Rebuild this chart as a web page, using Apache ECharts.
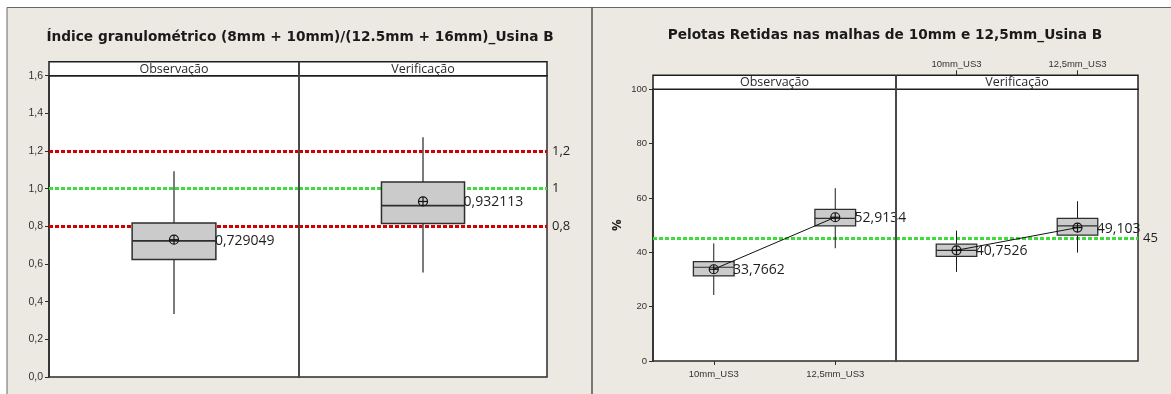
<!DOCTYPE html>
<html>
<head>
<meta charset="utf-8">
<script src="https://cdn.jsdelivr.net/npm/echarts@6/dist/echarts.min.js"></script>
<style>
  html, body { margin: 0; padding: 0; background: #ffffff; }
  #chart { width: 1171px; height: 394px; }
</style>
</head>
<body>
<div id="chart"></div>
<script>
// ---- Índice granulométrico (8mm + 10mm)/(12.5mm + 16mm) ----
// box stats: low whisker, Q1, median, Q3, high whisker
const phases = ['Observação', 'Verificação'];
const indexObs = [0.334, 0.624, 0.723, 0.818, 1.092];
const indexVer = [0.555, 0.815, 0.910, 1.036, 1.273];
const indexMeans = [0.729049, 0.932113];
const indexLimits = [1.2, 0.8];
const indexTarget = [1.0];
const indexAxis = { min: 0, max: 1.6, interval: 0.2 };

// ---- Pelotas retidas nas malhas de 10mm e 12,5mm (%) ----
const meshes = ['10mm_US3', '12,5mm_US3'];
const retObs10 = [24.3, 31.3, 34.5, 36.6, 43.3];
const retObs125 = [41.5, 49.7, 52.5, 55.8, 63.6];
const retVer10 = [32.8, 38.5, 40.75, 43.0, 48.0];
const retVer125 = [39.9, 46.3, 49.7, 52.5, 58.8];
const retObsMeans = [33.7662, 52.9134];
const retVerMeans = [40.7526, 49.103];
const retTarget = [45];
const retAxis = { min: 0, max: 100, interval: 20 };

const titles = [
  'Índice granulométrico (8mm + 10mm)/(12.5mm + 16mm)_Usina B',
  'Pelotas Retidas nas malhas de 10mm e 12,5mm_Usina B'
];

// ---- layout ----
const BEIGE = '#ece8e2';
const LEFT = { x0: 49, xm: 299, x1: 547, head: 61.7, top: 75.7, bottom: 377 };
const RIGHT = { x0: 653, xm: 896, x1: 1138, head: 75.3, top: 89.3, bottom: 361 };
const RED = '#d40000';
const GREEN = '#3cdc3c';

const comma = v => String(v).replace('.', ',');
const LABEL_FONT = '"Open Sans", "DejaVu Sans", sans-serif';
const TICK_FONT = '"Liberation Sans", Arial, sans-serif';

function gridAt(x0, x1, p) {
  return {
    left: x0, top: p.top, width: x1 - x0, height: p.bottom - p.top,
    show: true, backgroundColor: '#ffffff', borderColor: '#2b2b2b', borderWidth: 1.5,
    containLabel: false, outerBoundsMode: 'none'
  };
}

function boxRenderer(st) {
  return function (params, api) {
    const c = api.value(0);
    const at = i => api.coord([c, api.value(i)]);
    const lo = at(1), q1 = at(2), md = at(3), q3 = at(4), hi = at(5), mn = at(6);
    const cx = lo[0];
    const hw = api.size([1, 0])[0] * 0.335 / 2;
    const r = st.meanR;
    const ink = { stroke: '#111', lineWidth: 1.2 };
    return {
      type: 'group',
      children: [
        { type: 'line', shape: { x1: cx, y1: lo[1], x2: cx, y2: q1[1] }, style: { stroke: st.whisker, lineWidth: st.whiskerW } },
        { type: 'line', shape: { x1: cx, y1: q3[1], x2: cx, y2: hi[1] }, style: { stroke: st.whisker, lineWidth: st.whiskerW } },
        { type: 'rect', shape: { x: cx - hw, y: q3[1], width: hw * 2, height: q1[1] - q3[1] },
          style: { fill: '#cbcbcb', stroke: '#2e2e2e', lineWidth: st.boxW } },
        { type: 'line', shape: { x1: cx - hw, y1: md[1], x2: cx + hw, y2: md[1] }, style: { stroke: '#2e2e2e', lineWidth: st.medW } },
        { type: 'circle', shape: { cx: cx, cy: mn[1], r: r }, style: Object.assign({ fill: null }, ink) },
        { type: 'line', shape: { x1: cx - r, y1: mn[1], x2: cx + r, y2: mn[1] }, style: ink },
        { type: 'line', shape: { x1: cx, y1: mn[1] - r, x2: cx, y2: mn[1] + r }, style: ink },
        { type: 'text', z2: 20, style: {
            text: comma(api.value(6)), x: cx + hw - 1, y: mn[1] + 1,
            align: 'left', verticalAlign: 'middle', textAlign: 'left', textVerticalAlign: 'middle',
            fontSize: 14, fontFamily: LABEL_FONT, fill: '#1e1e1e' } }
      ]
    };
  };
}

function refLines(values, color, labelled) {
  return values.map(v => ({
    yAxis: v,
    lineStyle: { color: color, type: [4, 2], width: 3 },
    label: labelled
      ? { show: true, position: 'end', distance: 5, formatter: comma(v),
          fontSize: 13, fontFamily: LABEL_FONT, color: '#1e1e1e' }
      : { show: false }
  }));
}

function boxSeries(grid, rows, means, st, marks) {
  return {
    type: 'custom', xAxisIndex: grid, yAxisIndex: grid, z: 10,
    renderItem: boxRenderer(st),
    encode: { x: 0, y: [1, 2, 3, 4, 5, 6] },
    data: rows.map((r, i) => [i].concat(r, [means[i]])),
    silent: true,
    markLine: { silent: true, symbol: 'none', z: 1, animation: false, data: marks }
  };
}

const leftStyle = { whisker: '#5a5a5a', whiskerW: 1.6, boxW: 1.5, medW: 1.6, meanR: 4.5 };
const rightStyle = { whisker: '#1a1a1a', whiskerW: 1, boxW: 1.3, medW: 1.2, meanR: 4.5 };

const hiddenX = cats => ({ type: 'category', data: cats, show: false, boundaryGap: true });
const yAxisOf = (grid, ax, show, name) => ({
  type: 'value', gridIndex: grid, min: ax.min, max: ax.max, interval: ax.interval,
  show: show, splitLine: { show: false },
  axisLine: { show: true, lineStyle: { color: '#2b2b2b', width: 1.5 } },
  axisTick: { show: true, length: 4, lineStyle: { color: '#2b2b2b' } },
  axisLabel: { show: true, margin: 6, fontSize: grid < 2 ? 10.5 : 9.5, fontFamily: TICK_FONT, color: '#333',
    formatter: v => grid < 2 ? v.toFixed(1).replace('.', ',') : String(v) },
  name: name || '', nameLocation: 'middle', nameGap: 29, nameRotate: 90,
  nameTextStyle: { fontSize: 13, fontWeight: 'bold', fontFamily: LABEL_FONT, color: '#222' }
});

const meshAxis = (grid, pos, show) => ({
  type: 'category', gridIndex: grid, data: meshes, boundaryGap: true,
  position: pos, offset: pos === 'top' ? RIGHT.top - RIGHT.head : 0,
  axisLine: { show: false, onZero: false },
  axisTick: { show: show, alignWithLabel: true, length: pos === 'top' ? 5 : 4, lineStyle: { color: '#2b2b2b' } },
  axisLabel: { show: show, margin: pos === 'top' ? 6 : 8, fontSize: 9.5, fontFamily: TICK_FONT, color: '#333' }
});

// ---- static frame: panels, strip headers, titles ----
function strip(p, names) {
  const mid = [(p.x0 + p.xm) / 2, (p.xm + p.x1) / 2];
  return [
    { type: 'rect', shape: { x: p.x0, y: p.head, width: p.x1 - p.x0, height: p.top - p.head },
      style: { fill: '#ffffff', stroke: '#1e1e1e', lineWidth: 1.5 } },
    { type: 'line', shape: { x1: p.xm, y1: p.head, x2: p.xm, y2: p.top }, style: { stroke: '#444', lineWidth: 2 } },
    { type: 'line', shape: { x1: p.xm, y1: p.top, x2: p.xm, y2: p.bottom }, z: 50, style: { stroke: '#4a4a4a', lineWidth: 2 } }
  ].concat(names.map((n, i) => ({
    type: 'text', x: mid[i], y: (p.head + p.top) / 2 + 0.5,
    style: { text: n, align: 'center', verticalAlign: 'middle', textAlign: 'center', textVerticalAlign: 'middle',
      fontSize: 12.5, fontFamily: LABEL_FONT, fill: '#2a2a2a' }
  })));
}

const TITLE_STYLE = { align: 'center', verticalAlign: 'middle', textAlign: 'center', textVerticalAlign: 'middle',
  fontSize: 13.7, fontWeight: 'bold', fontFamily: '"DejaVu Sans", sans-serif', fill: '#1a1a1a' };

const graphics = [
  { type: 'rect', shape: { x: 0, y: 0, width: 1171, height: 7 }, style: { fill: '#ffffff' } },
  { type: 'rect', shape: { x: 0, y: 0, width: 7, height: 394 }, style: { fill: '#ffffff' } },
  { type: 'polyline', shape: { points: [[7, 394], [7, 7.5], [1171, 7.5]] }, style: { fill: null, stroke: '#666', lineWidth: 1 } },
  { type: 'line', shape: { x1: 592, y1: 7, x2: 592, y2: 394 }, style: { stroke: '#555', lineWidth: 1.5 } },
  { type: 'text', x: 300, y: 37.5, style: Object.assign({ text: titles[0] }, TITLE_STYLE) },
  { type: 'text', x: 885, y: 35, style: Object.assign({ text: titles[1] }, TITLE_STYLE) }
].concat(strip(LEFT, phases), strip(RIGHT, phases));

const option = {
  backgroundColor: BEIGE,
  animation: false,
  grid: [
    gridAt(LEFT.x0, LEFT.xm, LEFT),
    gridAt(LEFT.xm, LEFT.x1, LEFT),
    gridAt(RIGHT.x0, RIGHT.xm, RIGHT),
    gridAt(RIGHT.xm, RIGHT.x1, RIGHT)
  ],
  xAxis: [
    Object.assign(hiddenX([phases[0]]), { gridIndex: 0 }),
    Object.assign(hiddenX([phases[1]]), { gridIndex: 1 }),
    meshAxis(2, 'bottom', true),
    meshAxis(3, 'top', true)
  ],
  yAxis: [
    yAxisOf(0, indexAxis, true),
    yAxisOf(1, indexAxis, false),
    yAxisOf(2, retAxis, true, '%'),
    yAxisOf(3, retAxis, false)
  ],
  series: [
    boxSeries(0, [indexObs], [indexMeans[0]], leftStyle,
      refLines(indexLimits, RED, false).concat(refLines(indexTarget, GREEN, false))),
    boxSeries(1, [indexVer], [indexMeans[1]], leftStyle,
      refLines(indexLimits, RED, true).concat(refLines(indexTarget, GREEN, true))),
    boxSeries(2, [retObs10, retObs125], retObsMeans, rightStyle, refLines(retTarget, GREEN, false)),
    boxSeries(3, [retVer10, retVer125], retVerMeans, rightStyle, refLines(retTarget, GREEN, true)),
    { type: 'line', xAxisIndex: 2, yAxisIndex: 2, z: 12, data: retObsMeans, symbol: 'none', silent: true,
      lineStyle: { color: '#111', width: 1 } },
    { type: 'line', xAxisIndex: 3, yAxisIndex: 3, z: 12, data: retVerMeans, symbol: 'none', silent: true,
      lineStyle: { color: '#111', width: 1 } }
  ],
  graphic: graphics
};

const chart = echarts.init(document.getElementById('chart'), null, { renderer: 'canvas' });
chart.setOption(option);
</script>
</body>
</html>
